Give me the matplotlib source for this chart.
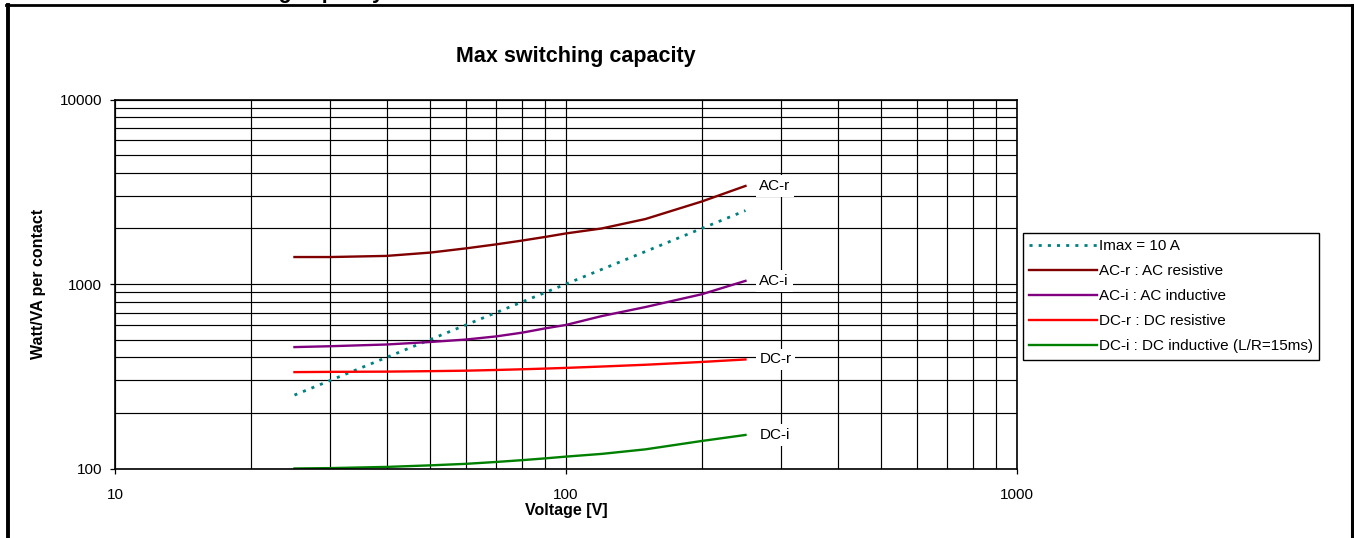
'''
Max switching capacity of the relay contacts, log-log chart.
'''

import matplotlib
matplotlib.use('Agg')
import matplotlib.pyplot as plt
from matplotlib.lines import Line2D
from matplotlib.ticker import FixedLocator, NullFormatter, FuncFormatter, LogLocator

plt.rcParams['font.family'] = ['Liberation Sans', 'DejaVu Sans']

# data
volt = [25, 30, 40, 50, 60, 70, 80, 90, 100, 120, 150, 200, 250]
ac_r = [1400, 1400, 1420, 1480, 1560, 1640, 1720, 1800, 1880, 2000, 2250, 2800, 3400]
ac_i = [455, 460, 470, 485, 500, 520, 545, 575, 600, 670, 750, 880, 1040]
dc_r = [333, 334, 335, 337, 339, 342, 345, 348, 351, 357, 365, 378, 390]
dc_i = [100, 100.5, 102, 104, 106, 108.5, 111, 113.5, 116, 120, 127, 141, 152]

imax_volt = [25, 250]
imax_power = [250, 2500]

x_ticks = [10, 100, 1000]
y_ticks = [100, 1000, 10000]

W, H = 1354, 538
fig = plt.figure(figsize=(W / 100, H / 100), dpi=100)
ax = fig.add_axes([115 / W, 1 - 468.5 / H, 902 / W, 369 / H])

ax.set_xscale('log')
ax.set_yscale('log')
ax.set_xlim(10, 1000)
ax.set_ylim(100, 10000)

#grid on every decade step
ax.xaxis.set_major_locator(FixedLocator(x_ticks))
ax.yaxis.set_major_locator(FixedLocator(y_ticks))
ax.xaxis.set_minor_locator(LogLocator(base=10, subs=range(2, 10)))
ax.yaxis.set_minor_locator(LogLocator(base=10, subs=range(2, 10)))
ax.xaxis.set_minor_formatter(NullFormatter())
ax.yaxis.set_minor_formatter(NullFormatter())
fmt = FuncFormatter(lambda v, p: '%d' % v)
ax.xaxis.set_major_formatter(fmt)
ax.yaxis.set_major_formatter(fmt)
ax.grid(which='both', color='k', linewidth=0.85)
ax.tick_params(which='minor', length=0)
ax.tick_params(which='major', direction='out', length=3.6, width=0.9, labelsize=11)
ax.tick_params(axis='x', pad=10.5)
ax.tick_params(axis='y', pad=5.5)
for sp in ax.spines.values():
  sp.set_linewidth(1.2)

ax.plot(imax_volt, imax_power, color='#008080', linewidth=2, linestyle=(0, (1.1, 2.2)), label='Imax = 10 A')
ax.plot(volt, ac_r, color='#800000', linewidth=1.7, label='AC-r : AC resistive')
ax.plot(volt, ac_i, color='#800080', linewidth=1.7, label='AC-i : AC inductive')
ax.plot(volt, dc_r, color='#ff0000', linewidth=1.7, label='DC-r : DC resistive')
ax.plot(volt, dc_i, color='#008000', linewidth=1.7, label='DC-i : DC inductive (L/R=15ms)')

#end labels
for name, vals in (('AC-r', ac_r), ('AC-i', ac_i), ('DC-r', dc_r), ('DC-i', dc_i)):
  ax.annotate(name, xy=(volt[-1], vals[-1]), xytext=(10, 0), textcoords='offset points',
              ha='left', va='center', fontsize=11,
              bbox=dict(boxstyle='square,pad=0.25', fc='white', ec='none'))

ax.set_xlabel('Voltage [V]', fontsize=11.5, fontweight='bold', labelpad=1)
ax.set_ylabel('Watt/VA per contact', fontsize=11.5, fontweight='bold')
ax.yaxis.set_label_coords(-69 / 902, 0.5)

leg = ax.legend(loc='upper left', bbox_to_anchor=(1023 / W, 1 - 233 / H), bbox_transform=fig.transFigure,
                borderaxespad=0, fontsize=11, fancybox=False, framealpha=1, edgecolor='k',
                handlelength=4.4, handletextpad=0.15, labelspacing=0.72, borderpad=0.42)
leg.get_frame().set_linewidth(1.0)

fig.text(576 / W, 1 - 62 / H, 'Max switching capacity', ha='center', va='baseline',
         fontsize=15.5, fontweight='bold')

#cut-off heading above the frame
fig.text(384 / W, 1 + 2 / H, 'Switching capacity', ha='right', va='baseline', fontsize=15.5, fontweight='bold')

#page frame
fig.add_artist(Line2D([8 / W, 8 / W], [0, 1 - 5 / H], transform=fig.transFigure, color='k', linewidth=2.8))
fig.add_artist(Line2D([1352 / W, 1352 / W], [0, 1 - 5 / H], transform=fig.transFigure, color='k', linewidth=2.2))
fig.add_artist(Line2D([6 / W, 1354 / W], [1 - 5 / H, 1 - 5 / H], transform=fig.transFigure, color='k', linewidth=2.0))

fig.savefig('out.png', dpi=100)
